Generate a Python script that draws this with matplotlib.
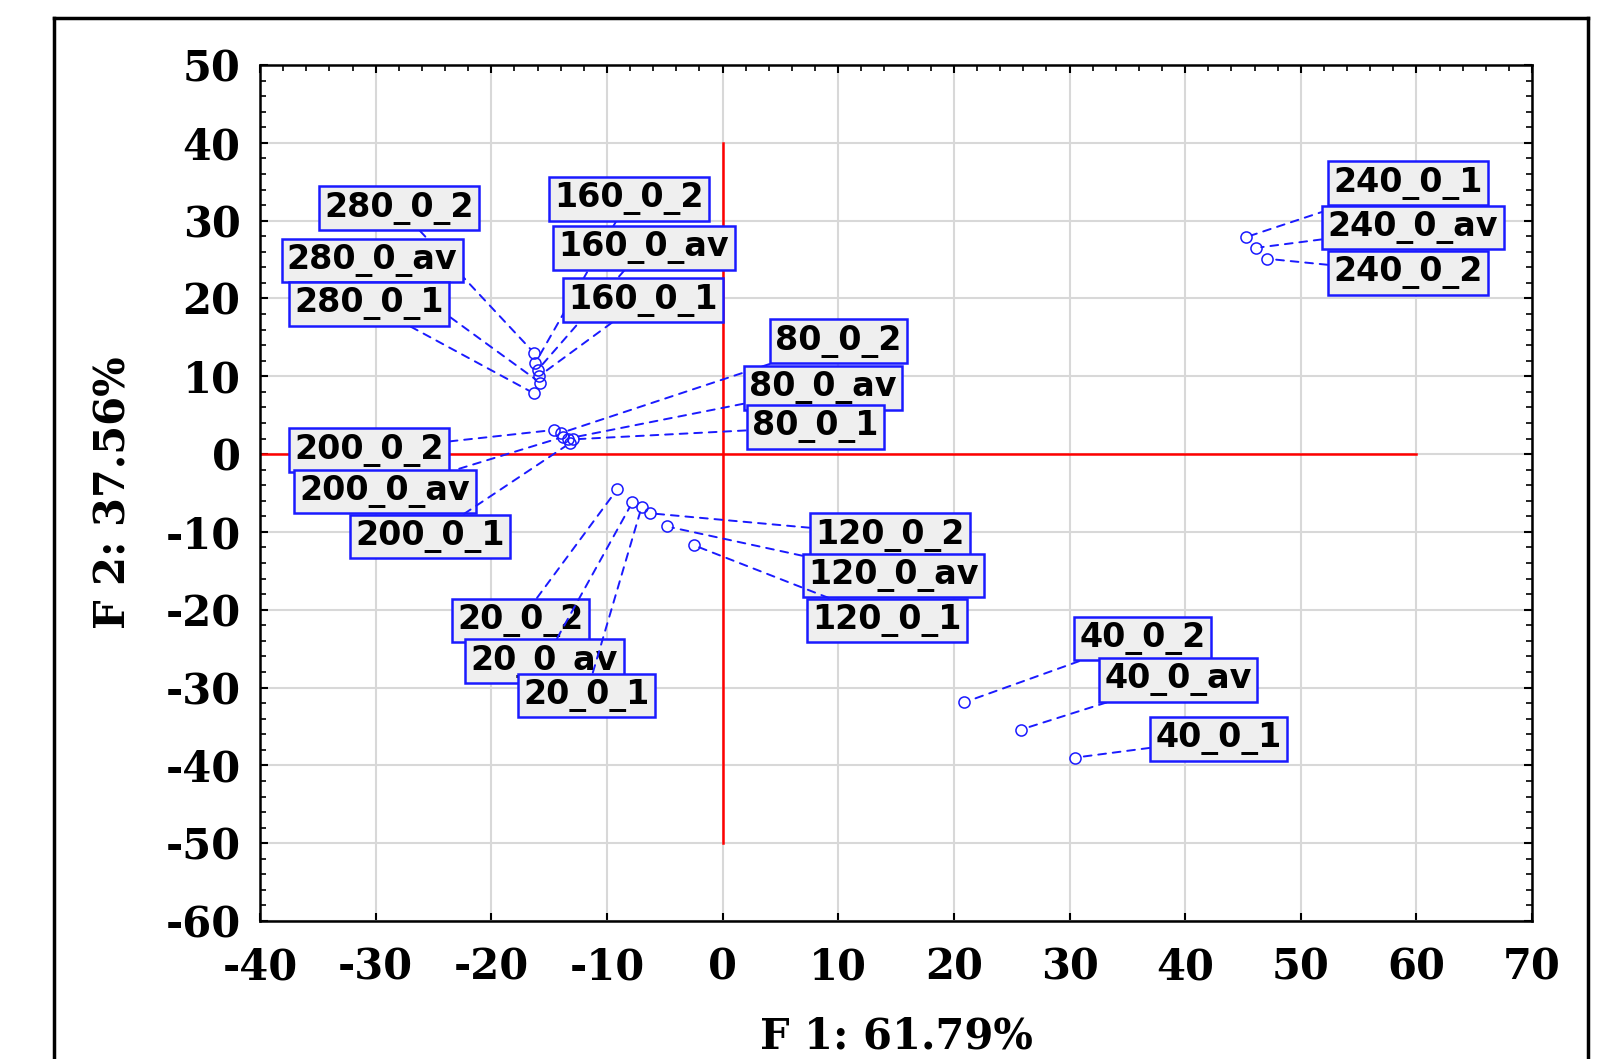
import matplotlib
matplotlib.use("Agg")
import matplotlib.pyplot as plt
from matplotlib.lines import Line2D
from matplotlib.ticker import MultipleLocator

plt.rcParams['axes.unicode_minus'] = False

# sample scores on the first two factors
labels = ['280_0_2', '280_0_av', '280_0_1', '160_0_2', '160_0_av', '160_0_1',
          '240_0_1', '240_0_av', '240_0_2', '80_0_2', '80_0_av', '80_0_1',
          '200_0_2', '200_0_av', '200_0_1', '120_0_2', '120_0_av', '120_0_1',
          '20_0_2', '20_0_av', '20_0_1', '40_0_2', '40_0_av', '40_0_1']
f1 = [-16.3, -15.8, -16.3, -16.2, -16.0, -15.9,
      45.3, 46.1, 47.1, -14.0, -13.4, -12.9,
      -14.6, -13.8, -13.2, -6.3, -4.8, -2.5,
      -9.1, -7.8, -7.0, 20.9, 25.8, 30.5]
f2 = [13.0, 9.2, 7.8, 11.7, 10.8, 10.0,
      27.9, 26.5, 25.1, 2.7, 2.0, 1.9,
      3.1, 2.2, 1.4, -7.6, -9.3, -11.7,
      -4.5, -6.2, -6.8, -31.9, -35.4, -39.0]

# where each label box sits (data coords)
label_pos = {
    '280_0_2': (-28.0, 31.6), '280_0_av': (-30.3, 24.9), '280_0_1': (-30.6, 19.3),
    '160_0_2': (-8.1, 32.8), '160_0_av': (-6.8, 26.5), '160_0_1': (-6.9, 19.8),
    '240_0_1': (59.3, 34.8), '240_0_av': (59.7, 29.1), '240_0_2': (59.3, 23.3),
    '80_0_2': (10.0, 14.5), '80_0_av': (8.7, 8.5), '80_0_1': (8.0, 3.5),
    '200_0_2': (-30.6, 0.5), '200_0_av': (-29.2, -4.8), '200_0_1': (-25.3, -10.6),
    '120_0_2': (14.5, -10.4), '120_0_av': (14.8, -15.6), '120_0_1': (14.2, -21.4),
    '20_0_2': (-17.5, -21.4), '20_0_av': (-15.4, -26.6), '20_0_1': (-11.8, -31.0),
    '40_0_2': (36.3, -23.7), '40_0_av': (39.4, -29.0), '40_0_1': (42.9, -36.6),
}

blue = '#1a1aff'

fig = plt.figure(figsize=(16.23, 10.59), dpi=100)
ax = fig.add_axes([0.1602, 0.1303, 0.7838, 0.8083])

ax.set_xlim(-40, 70)
ax.set_ylim(-60, 50)
ax.xaxis.set_major_locator(MultipleLocator(10))
ax.yaxis.set_major_locator(MultipleLocator(10))
ax.xaxis.set_minor_locator(MultipleLocator(2))
ax.yaxis.set_minor_locator(MultipleLocator(2))
ax.grid(True, which='major', color='#d8d8d8', lw=1.5, zorder=0)
ax.set_axisbelow(True)

# red axes through origin
ax.plot([0, 0], [-50, 40], color='red', lw=1.8, zorder=1)
ax.plot([-40, 60], [0, 0], color='red', lw=1.8, zorder=1)

ax.plot(f1, f2, 'o', ms=8, mfc='none', mec=blue, mew=1.1, zorder=3)

for lab, x, y in zip(labels, f1, f2):
    tx, ty = label_pos[lab]
    ax.annotate(lab, xy=(x, y), xytext=(tx, ty), textcoords='data',
                ha='center', va='center', fontsize=24, fontweight='bold',
                family='DejaVu Sans', color='black', zorder=4,
                bbox=dict(boxstyle='square,pad=0.16', fc='#efefef', ec=blue, lw=1.8),
                arrowprops=dict(arrowstyle='-', color=blue, lw=1.4,
                                linestyle=(0, (4, 3.5)), shrinkA=0, shrinkB=4))

for s in ax.spines.values():
    s.set_linewidth(1.8)
    s.set_color('black')

ax.tick_params(which='both', direction='in', top=True, right=True)
ax.tick_params(which='major', length=6, width=1.5)
ax.tick_params(which='minor', length=4, width=1.2, bottom=False)
ax.tick_params(axis='x', pad=18)
ax.tick_params(axis='y', pad=14)

for t in ax.get_xticklabels() + ax.get_yticklabels():
    t.set_family('DejaVu Serif')
    t.set_fontweight('bold')
    t.set_fontsize(30)

ax.set_xlabel('F 1: 61.79%', family='DejaVu Serif', fontweight='bold',
              fontsize=30, labelpad=20)
ax.set_ylabel('F 2: 37.56%', family='DejaVu Serif', fontweight='bold',
              fontsize=30, labelpad=22)

# outer frame around the figure panel
fl, fr, ft = 54 / 1623, 1588 / 1623, 1 - 18 / 1059
for xs, ys in [([fl, fl], [-0.01, ft]), ([fr, fr], [-0.01, ft]), ([fl, fr], [ft, ft])]:
    fig.add_artist(Line2D(xs, ys, transform=fig.transFigure, color='black', lw=2.5))

fig.savefig('out.png', dpi=100)
